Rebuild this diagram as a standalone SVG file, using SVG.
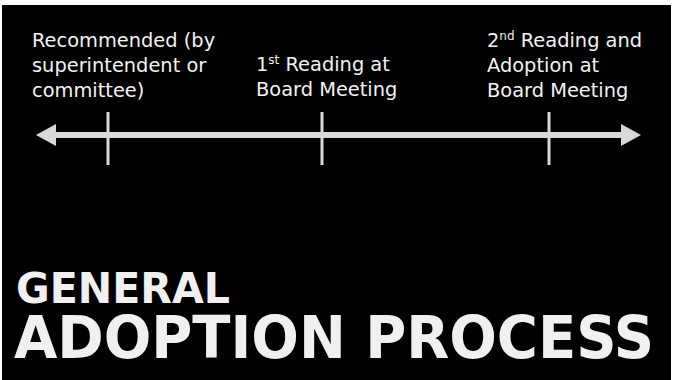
<svg xmlns="http://www.w3.org/2000/svg" width="674" height="380" viewBox="0 0 674 380">
  <style>
    .lbl { font-family: "DejaVu Sans", Verdana, sans-serif; font-size: 19.4px; fill: #f2f2f2; }
    .sup { font-size: 12px; }
    .tick { stroke: #d9d9d9; stroke-width: 3; }
    .title { font-family: "DejaVu Sans Condensed", "DejaVu Sans", Verdana, sans-serif; font-weight: bold; fill: #f0f0f0; }
  </style>
  <rect x="0" y="0" width="674" height="380" fill="#ffffff"/>
  <rect x="2" y="5" width="669" height="375" fill="#000000"/>

  <g id="connectors">
    <rect x="54" y="132" width="569" height="6" fill="#d9d9d9"/>
    <polygon points="36,135 56,124 56,146" fill="#d9d9d9"/>
    <polygon points="641,135 621,124 621,146" fill="#d9d9d9"/>
  </g>

  <g id="milestone-recommended">
    <line class="tick" x1="108" y1="112" x2="108" y2="165"/>
    <text class="lbl" x="32" y="47">Recommended (by</text>
    <text class="lbl" x="32" y="72">superintendent or</text>
    <text class="lbl" x="32" y="97">committee)</text>
  </g>

  <g id="milestone-first-reading">
    <line class="tick" x1="322" y1="112" x2="322" y2="165"/>
    <text class="lbl" x="256" y="71">1<tspan class="sup" dy="-7">st</tspan><tspan dy="7"> Reading at</tspan></text>
    <text class="lbl" x="256" y="96">Board Meeting</text>
  </g>

  <g id="milestone-second-reading">
    <line class="tick" x1="549" y1="112" x2="549" y2="165"/>
    <text class="lbl" x="487" y="47">2<tspan class="sup" dy="-7">nd</tspan><tspan dy="7"> Reading and</tspan></text>
    <text class="lbl" x="487" y="72">Adoption at</text>
    <text class="lbl" x="487" y="97">Board Meeting</text>
  </g>

  <g id="title">
    <text class="title" x="16" y="303" font-size="42" textLength="214" lengthAdjust="spacingAndGlyphs">GENERAL</text>
    <text class="title" x="14" y="358" font-size="59" textLength="640" lengthAdjust="spacingAndGlyphs">ADOPTION PROCESS</text>
  </g>
</svg>
